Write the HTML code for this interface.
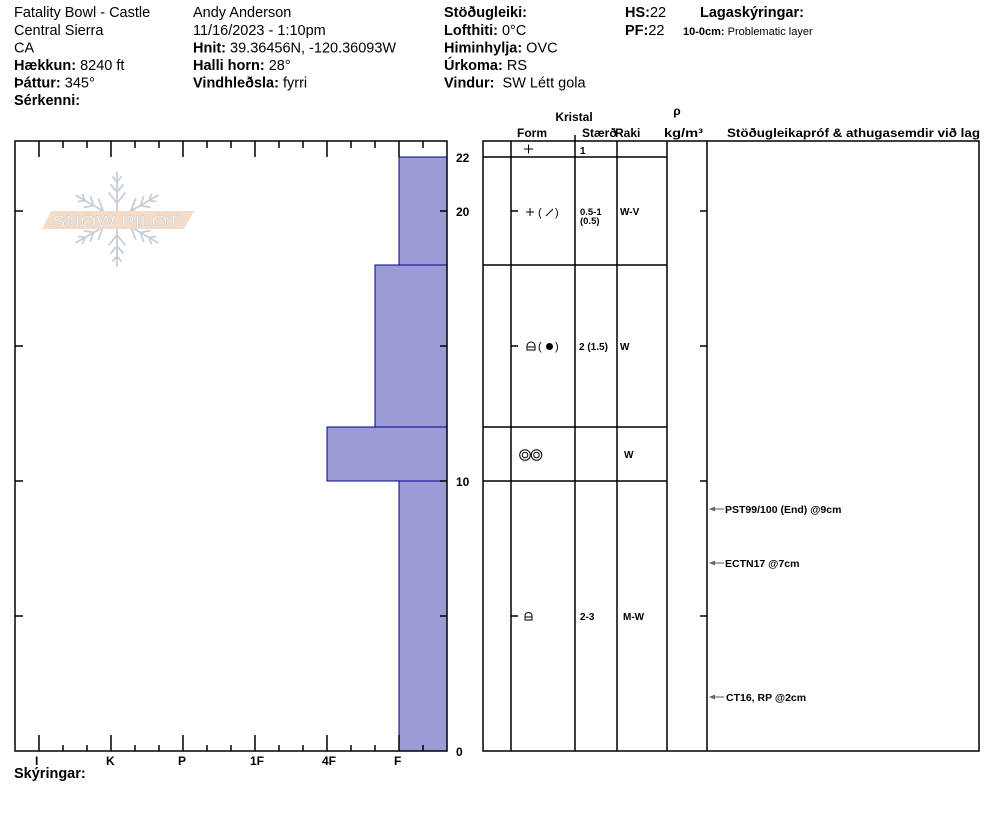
<!DOCTYPE html>
<html><head><meta charset="utf-8">
<style>
html,body{margin:0;padding:0;background:#fff;}
svg{display:block;font-family:"Liberation Sans",Arial,sans-serif;}
.h{font-size:14.5px;fill:#000;}
.b{font-weight:bold;}
.t{font-size:10px;font-weight:bold;fill:#000;}
.c{font-size:10.5px;font-weight:bold;fill:#000;}
.hd{font-size:12px;font-weight:bold;fill:#000;}
</style></head><body>
<svg width="994" height="840" viewBox="0 0 994 840" xmlns="http://www.w3.org/2000/svg">
<rect x="0" y="0" width="994" height="840" fill="#fff"/>

<!-- Header left -->
<text class="h" x="14" y="17">Fatality Bowl - Castle</text>
<text class="h" x="14" y="35">Central Sierra</text>
<text class="h" x="14" y="52.5">CA</text>
<text class="h" x="14" y="70"><tspan class="b">Hækkun:</tspan> 8240 ft</text>
<text class="h" x="14" y="87.5"><tspan class="b">Þáttur:</tspan> 345°</text>
<text class="h" x="14" y="105"><tspan class="b">Sérkenni:</tspan></text>

<text class="h" x="193" y="17">Andy Anderson</text>
<text class="h" x="193" y="35">11/16/2023 - 1:10pm</text>
<text class="h" x="193" y="52.5"><tspan class="b">Hnit:</tspan> 39.36456N, -120.36093W</text>
<text class="h" x="193" y="70"><tspan class="b">Halli horn:</tspan> 28°</text>
<text class="h" x="193" y="87.5"><tspan class="b">Vindhleðsla:</tspan> fyrri</text>

<text class="h" x="444" y="17"><tspan class="b">Stöðugleiki:</tspan></text>
<text class="h" x="444" y="35"><tspan class="b">Lofthiti:</tspan> 0°C</text>
<text class="h" x="444" y="52.5"><tspan class="b">Himinhylja:</tspan> OVC</text>
<text class="h" x="444" y="70"><tspan class="b">Úrkoma:</tspan> RS</text>
<text class="h" x="444" y="87.5"><tspan class="b">Vindur:</tspan>&#160; SW Létt gola</text>

<text class="h" x="625" y="17"><tspan class="b">HS:</tspan>22</text>
<text class="h" x="625" y="35"><tspan class="b">PF:</tspan>22</text>
<text class="h b" x="700" y="17">Lagaskýringar:</text>
<text x="683" y="35" style="font-size:11px;fill:#000"><tspan font-weight="bold">10-0cm:</tspan> Problematic layer</text>

<!-- Logo -->
<g transform="translate(117,219)" stroke="#c6ced7" stroke-width="1.8" fill="none" stroke-linecap="round">
  <g><path d="M0,-4 V-47 M0,-16 L-8,-26 M0,-16 L8,-26 M0,-27 L-6,-34 M0,-27 L6,-34 M0,-37 L-4,-42 M0,-37 L4,-42"/></g>
  <g transform="rotate(60)"><path d="M0,-4 V-47 M0,-16 L-8,-26 M0,-16 L8,-26 M0,-27 L-6,-34 M0,-27 L6,-34 M0,-37 L-4,-42 M0,-37 L4,-42"/></g>
  <g transform="rotate(120)"><path d="M0,-4 V-47 M0,-16 L-8,-26 M0,-16 L8,-26 M0,-27 L-6,-34 M0,-27 L6,-34 M0,-37 L-4,-42 M0,-37 L4,-42"/></g>
  <g transform="rotate(180)"><path d="M0,-4 V-47 M0,-16 L-8,-26 M0,-16 L8,-26 M0,-27 L-6,-34 M0,-27 L6,-34 M0,-37 L-4,-42 M0,-37 L4,-42"/></g>
  <g transform="rotate(240)"><path d="M0,-4 V-47 M0,-16 L-8,-26 M0,-16 L8,-26 M0,-27 L-6,-34 M0,-27 L6,-34 M0,-37 L-4,-42 M0,-37 L4,-42"/></g>
  <g transform="rotate(300)"><path d="M0,-4 V-47 M0,-16 L-8,-26 M0,-16 L8,-26 M0,-27 L-6,-34 M0,-27 L6,-34 M0,-37 L-4,-42 M0,-37 L4,-42"/></g>
</g>
<polygon points="51,211 194,211 184,229 42,229" fill="#f4dcc8"/>
<text x="52" y="227" font-size="17" textLength="128" lengthAdjust="spacingAndGlyphs" fill="#ffffff" stroke="#d2d2d2" stroke-width="0.7">SNOW PILOT</text>

<!-- Hardness bars -->
<g fill="#9b9bd6" stroke="#00008b" stroke-width="1">
  <rect x="399" y="157" width="48" height="108"/>
  <rect x="375" y="265" width="72" height="162"/>
  <rect x="327" y="427" width="120" height="54"/>
  <rect x="399" y="481" width="48" height="270"/>
</g>

<!-- Left chart frame -->
<g stroke="#000" stroke-width="1.5" fill="none">
  <rect x="15" y="141" width="432" height="610"/>
  <path d="M39,141V157 M63,141V148 M87,141V148 M111,141V157 M135,141V148 M159,141V148 M183,141V157 M207,141V148 M231,141V148 M255,141V157 M279,141V148 M303,141V148 M327,141V157 M351,141V148 M375,141V148 M399,141V157 M423,141V148"/>
  <path d="M39,751V735 M63,751V745 M87,751V745 M111,751V735 M135,751V745 M159,751V745 M183,751V735 M207,751V745 M231,751V745 M255,751V735 M279,751V745 M303,751V745 M327,751V735 M351,751V745 M375,751V745 M399,751V735 M423,751V745"/>
  <path d="M15,211H23 M15,346H23 M15,481H23 M15,616H23 M447,211H440 M447,346H440 M447,481H440 M447,616H440"/>
</g>

<!-- depth labels -->
<text class="hd" x="456" y="162">22</text>
<text class="hd" x="456" y="216">20</text>
<text class="hd" x="456" y="486">10</text>
<text class="hd" x="456" y="756">0</text>

<!-- hardness labels -->
<text class="hd" x="35" y="765">I</text>
<text class="hd" x="106" y="765">K</text>
<text class="hd" x="178" y="765">P</text>
<text class="hd" x="250" y="765">1F</text>
<text class="hd" x="322" y="765">4F</text>
<text class="hd" x="394" y="765">F</text>
<text class="h b" x="14" y="778">Skýringar:</text>

<!-- Table headers -->
<text class="hd" x="574" y="121" text-anchor="middle">Kristal</text>
<text class="hd" x="517" y="137">Form</text>
<text class="hd" x="582" y="137">Stærð</text>
<text class="hd" x="615" y="137">Raki</text>
<text class="hd" x="677" y="115" text-anchor="middle">ρ</text>
<text class="hd" x="664" y="137" textLength="39" lengthAdjust="spacingAndGlyphs">kg/m³</text>
<text class="hd" x="727" y="137" textLength="253" lengthAdjust="spacingAndGlyphs">Stöðugleikapróf &amp; athugasemdir við lag</text>

<!-- Table grid -->
<g stroke="#000" stroke-width="1.5" fill="none">
  <rect x="483" y="141" width="496" height="610"/>
  <path d="M511,141V751 M575,135V751 M617,141V751 M667,141V751 M707,141V751"/>
  <path d="M483,157H667 M483,265H667 M483,427H667 M483,481H667"/>
  <path d="M511,211H518 M511,346H518 M511,616H518 M707,211H700 M707,346H700 M707,481H700 M707,616H700"/>
</g>

<!-- Row 1 -->
<path d="M524,149H533 M528.5,144.5V153.5" stroke="#000" stroke-width="1" fill="none"/>
<text class="t" x="580" y="154">1</text>

<!-- Row 2 -->
<path d="M526,212H534 M530,208V216" stroke="#000" stroke-width="1" fill="none"/>
<text x="538" y="216" font-size="11" fill="#000">(</text>
<path d="M546,216L553,209" stroke="#000" stroke-width="1"/>
<text x="555" y="216" font-size="11" fill="#000">)</text>
<text class="t" x="580" y="215" style="font-size:9.5px">0.5-1</text>
<text class="t" x="580" y="224" style="font-size:9.5px">(0.5)</text>
<text class="t" x="620" y="215">W-V</text>

<!-- Row 3 -->
<path d="M527,350V346 A4,4 0 0 1 535,346 V350 Z M527,347H535" stroke="#000" stroke-width="1" fill="none"/>
<text x="538" y="350" font-size="11" fill="#000">(</text>
<circle cx="549.5" cy="346.5" r="3.5" fill="#000"/>
<text x="555" y="350" font-size="11" fill="#000">)</text>
<text class="t" x="579" y="350">2 (1.5)</text>
<text class="t" x="620" y="350">W</text>

<!-- Row 4 -->
<g stroke="#000" stroke-width="1" fill="none">
  <circle cx="525" cy="455" r="5.3"/><circle cx="525" cy="455" r="2.8"/>
  <circle cx="536.5" cy="455" r="5.3"/><circle cx="536.5" cy="455" r="2.8"/>
</g>
<text class="t" x="624" y="458">W</text>

<!-- Row 5 -->
<path d="M525,620V616 A3.5,3.5 0 0 1 532,616 V620 Z M525,617H532" stroke="#000" stroke-width="1" fill="none"/>
<text class="t" x="580" y="620">2-3</text>
<text class="t" x="623" y="620">M-W</text>

<!-- Comments -->
<g stroke="#555" stroke-width="1">
  <path d="M710,509H724 M710,563H724 M710,697H724"/>
</g>
<g fill="#666">
  <polygon points="709,509 715,506.5 715,511.5"/>
  <polygon points="709,563 715,560.5 715,565.5"/>
  <polygon points="709,697 715,694.5 715,699.5"/>
</g>
<text class="c" x="725" y="513">PST99/100 (End) @9cm</text>
<text class="c" x="725" y="567">ECTN17 @7cm</text>
<text class="c" x="726" y="701">CT16, RP @2cm</text>
</svg>
</body></html>
